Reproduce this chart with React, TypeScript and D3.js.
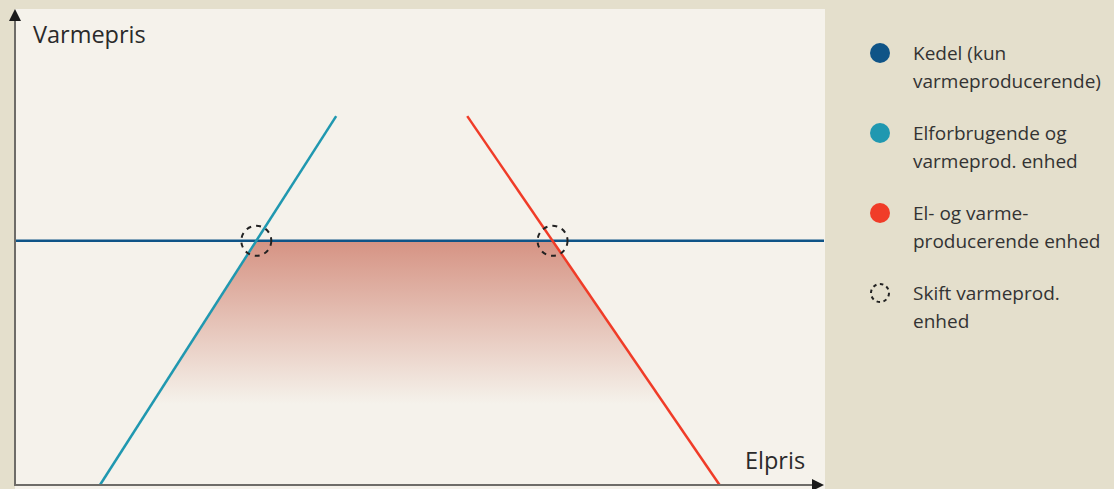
import React from "react";
import * as d3 from "d3";

const W = 1114;
const H = 489;

// abstract units 0..100 on both axes
const kedelLevel = [51.3];
const elforbrugPts = [
  { x: 10.5, y: 0 },
  { x: 39.7, y: 77.5 },
];
const elproducPts = [
  { x: 55.9, y: 77.5 },
  { x: 87.1, y: 0 },
];
const fadeLevel = [17];

const legendItems = [
  { lines: ["Kedel (kun", "varmeproducerende)"], color: "#0f5487", dashed: false },
  { lines: ["Elforbrugende og", "varmeprod. enhed"], color: "#2098b0", dashed: false },
  { lines: ["El- og varme-", "producerende enhed"], color: "#f03c28", dashed: false },
  { lines: ["Skift varmeprod.", "enhed"], color: "#222", dashed: true },
];

const App = () => {
  const x = d3.scaleLinear().domain([0, 100]).range([15, 824]);
  const y = d3.scaleLinear().domain([0, 100]).range([485, 9]);

  const line = d3
    .line<{ x: number; y: number }>()
    .x((d) => x(d.x))
    .y((d) => y(d.y));

  // x where a line crosses a given level
  const atLevel = (pts: { x: number; y: number }[], lvl: number) => {
    const [a, b] = pts;
    return a.x + ((lvl - a.y) / (b.y - a.y)) * (b.x - a.x);
  };

  const k = kedelLevel[0];
  const f = fadeLevel[0];
  const area = [
    { x: atLevel(elforbrugPts, k), y: k },
    { x: atLevel(elproducPts, k), y: k },
    { x: atLevel(elproducPts, f), y: f },
    { x: atLevel(elforbrugPts, f), y: f },
  ];

  const crossings = [atLevel(elforbrugPts, k), atLevel(elproducPts, k)];
  const font = "'Open Sans', 'Noto Sans', sans-serif";

  return (
    <svg
      width={W}
      height={H}
      style={{ position: "absolute", left: 0, top: 0, display: "block" }}
    >
      <defs>
        <linearGradient id="fade" x1="0" y1={y(k)} x2="0" y2={y(f)} gradientUnits="userSpaceOnUse">
          <stop offset="0" stopColor="#d48e7e" stopOpacity={0.95} />
          <stop offset="1" stopColor="#d48e7e" stopOpacity={0} />
        </linearGradient>
        <clipPath id="panel">
          <rect x={15} y={9} width={810} height={480} />
        </clipPath>
      </defs>
      <rect width={W} height={H} fill="#e4dfcc" />
      <rect x={15} y={9} width={810} height={480} fill="#f5f2eb" />

      <g clipPath="url(#panel)">
        <path d={line(area) + "Z"} fill="url(#fade)" />
        <line x1={x(0)} x2={x(100)} y1={y(k)} y2={y(k)} stroke="#0f5487" strokeWidth={2.5} />
        <path d={line(elforbrugPts) ?? ""} stroke="#2098b0" strokeWidth={2.5} fill="none" />
        <path d={line(elproducPts) ?? ""} stroke="#f03c28" strokeWidth={2.5} fill="none" />
        {crossings.map((cx, i) => (
          <circle
            key={i}
            cx={x(cx)}
            cy={y(k)}
            r={15}
            fill="none"
            stroke="#222"
            strokeWidth={2}
            strokeDasharray="5 5"
          />
        ))}
      </g>

      {/* axes */}
      <line x1={15} x2={15} y1={486} y2={18} stroke="#6e6c68" strokeWidth={2} />
      <path d="M9,21 L15,9 L21,21 Z" fill="#1a1a1a" />
      <line x1={14} x2={814} y1={485} y2={485} stroke="#6e6c68" strokeWidth={2} />
      <path d="M812,479 L824,485 L812,491 Z" fill="#1a1a1a" />

      <text x={33} y={43} fontFamily={font} fontSize={23.5} fill="#2a2a2a">
        Varmepris
      </text>
      <text x={745} y={469} fontFamily={font} fontSize={23.5} fill="#2a2a2a">
        Elpris
      </text>

      {legendItems.map((item, i) => {
        const cy = 53 + i * 80;
        return (
          <g key={i}>
            {item.dashed ? (
              <circle cx={880} cy={cy} r={9} fill="none" stroke={item.color} strokeWidth={2} strokeDasharray="3.5 3.5" />
            ) : (
              <circle cx={880} cy={cy} r={10} fill={item.color} />
            )}
            {item.lines.map((t, j) => (
              <text key={j} x={913} y={cy + 7 + j * 28} fontFamily={font} fontSize={19} fill="#333">
                {t}
              </text>
            ))}
          </g>
        );
      })}
    </svg>
  );
};

export default App;
